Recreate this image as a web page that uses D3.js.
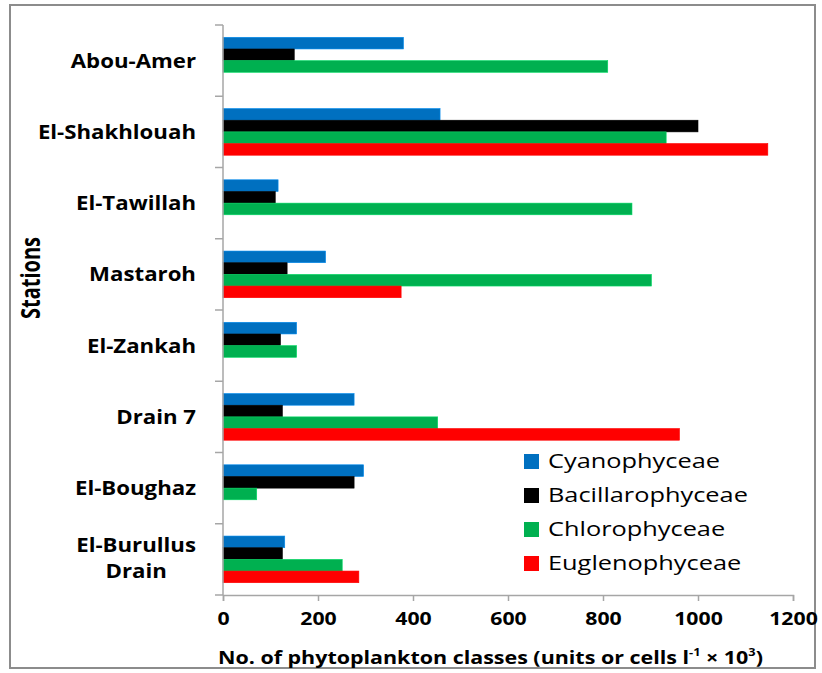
<!DOCTYPE html>
<html><head><meta charset="utf-8">
<script src="https://cdn.jsdelivr.net/npm/d3@7"></script>
<style>body{margin:0;background:#fff}svg{display:block}</style>
</head><body>
<script>
const stations = ["Abou-Amer","El-Shakhlouah","El-Tawillah","Mastaroh","El-Zankah","Drain 7","El-Boughaz","El-Burullus Drain"];
const seriesNames = ["Cyanophyceae","Bacillarophyceae","Chlorophyceae","Euglenophyceae"];
const cyanophyceae     = [380, 457, 116, 216, 155, 276, 296, 130];
const bacillarophyceae = [150, 1000, 110, 135, 121, 125, 276, 125];
const chlorophyceae    = [810, 933, 861, 902, 155, 452, 71, 251];
const euglenophyceae   = [0, 1147, 0, 375, 0, 961, 0, 286];
const xTicks = [0,200,400,600,800,1000,1200];
const colors = ["#0070C0","#000000","#00B050","#FF0000"];
const seriesValues = [cyanophyceae, bacillarophyceae, chlorophyceae, euglenophyceae];

(function(){
const W = 822, H = 673;
const svg = d3.select("body").append("svg").attr("width", W).attr("height", H);
svg.append("rect").attr("x",10).attr("y",5).attr("width",805).attr("height",663)
  .attr("fill","#fff").attr("stroke","#8c8c8c").attr("stroke-width",2);

function stretch(sel, sx, ax){
  sel.attr("transform", `translate(${ax},0) scale(${sx},1) translate(${-ax},0)`);
}

const pLeft = 223, pRight = 793, pTop = 25, pBottom = 595;
const x = d3.scaleLinear().domain([0,1200]).range([pLeft,pRight]);
const y = d3.scaleBand().domain(stations).range([pTop,pBottom]).paddingInner(0.345).paddingOuter(0.1725);
const ySub = d3.scaleBand().domain(seriesNames).range([0, y.bandwidth()]);

const g = svg.append("g");
stations.forEach((s,i) => {
  seriesNames.forEach((n,j) => {
    const v = seriesValues[j][i];
    if (!v) return;
    g.append("rect").attr("x", x(0)).attr("y", y(s)+ySub(n))
      .attr("width", x(v)-x(0)).attr("height", ySub.bandwidth())
      .attr("fill", colors[j]).attr("stroke", d3.color(colors[j]).brighter(0.6)).attr("stroke-width",0.6);
  });
});

const yb = d3.scaleLinear().domain([0,stations.length]).range([pTop,pBottom]);
svg.append("line").attr("x1",x(0)).attr("x2",x(0)).attr("y1",pTop).attr("y2",pBottom).attr("stroke","#a6a6a6").attr("stroke-width",1.5);
d3.range(stations.length+1).forEach(k=>{
  svg.append("line").attr("x1",x(0)-8).attr("x2",x(0)).attr("y1",yb(k)).attr("y2",yb(k)).attr("stroke","#a6a6a6").attr("stroke-width",1.5);
});
const xa = svg.append("g").attr("transform",`translate(0,${pBottom})`)
  .call(d3.axisBottom(x).tickValues(xTicks).tickSize(6).tickFormat(d3.format("d")));
xa.select(".domain").attr("stroke","#a6a6a6").attr("stroke-width",1.5);
xa.selectAll(".tick line").attr("stroke","#a6a6a6").attr("stroke-width",1.5);
xa.selectAll(".tick text").attr("font-family","Open Sans").attr("font-weight","bold").attr("font-size",17)
  .attr("fill","#000").attr("y",30).attr("dy",0).attr("transform","scale(1.25,1)");

const FS = 19, SX = 1.17;
stations.forEach(s=>{
  const cy = y(s)+y.bandwidth()/2;
  if (s === "El-Burullus Drain") {
    const t1 = svg.append("text").attr("x",196).attr("y",cy-7).attr("text-anchor","end")
      .attr("font-family","Open Sans").attr("font-weight","bold").attr("font-size",FS).attr("fill","#000").text("El-Burullus");
    stretch(t1, SX, 196);
    const w = t1.node().getComputedTextLength()*SX;
    const cx = 196 - w/2;
    const t2 = svg.append("text").attr("x",cx).attr("y",cy+19).attr("text-anchor","middle")
      .attr("font-family","Open Sans").attr("font-weight","bold").attr("font-size",FS).attr("fill","#000").text("Drain");
    stretch(t2, SX, cx);
  } else {
    const t = svg.append("text").attr("x",196).attr("y",cy+7).attr("text-anchor","end")
      .attr("font-family","Open Sans").attr("font-weight","bold").attr("font-size",FS).attr("fill","#000").text(s);
    stretch(t, SX, 196);
  }
});

svg.append("text").attr("transform","translate(40,278) scale(1.3,1) rotate(-90)").attr("text-anchor","middle")
  .attr("font-family","Open Sans").attr("font-weight","bold").attr("font-size",20).attr("fill","#000").text("Stations");

const xt = svg.append("text").attr("x",218).attr("y",664)
  .attr("font-family","Open Sans").attr("font-weight","bold").attr("font-size",18.5).attr("fill","#000");
xt.append("tspan").text("No. of phytoplankton classes (units or cells l");
xt.append("tspan").attr("font-size",11).attr("dy",-8).text("-1");
xt.append("tspan").attr("dy",8).text(" × 10");
xt.append("tspan").attr("font-size",11).attr("dy",-8).text("3");
xt.append("tspan").attr("dy",8).text(")");
stretch(xt, 1.16, 218);

seriesNames.forEach((n,j)=>{
  const ly = 461 + j*34;
  svg.append("rect").attr("x",524).attr("y",ly-7).attr("width",15).attr("height",15).attr("fill",colors[j]);
  const t = svg.append("text").attr("x",548).attr("y",ly+7).attr("font-family","Open Sans").attr("font-size",19.5).attr("fill","#000").text(n);
  stretch(t, 1.3, 548);
});
})();
</script>
</body></html>
